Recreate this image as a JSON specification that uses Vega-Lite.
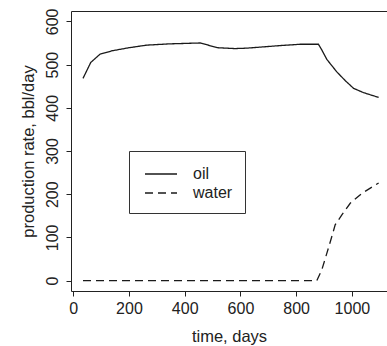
{
  "$schema": "https://vega.github.io/schema/vega-lite/v6.json",
  "width": 316,
  "height": 280,
  "autosize": {"type": "none"},
  "padding": {"left": 71, "top": 11, "right": 0, "bottom": 55},
  "background": "white",
  "config": {
    "view": {"stroke": null},
    "font": "Liberation Sans",
    "axis": {
      "domainColor": "#222",
      "domainWidth": 1,
      "tickColor": "#222",
      "tickWidth": 1,
      "tickSize": 5,
      "grid": false,
      "labelFont": "Liberation Sans",
      "labelFontSize": 16,
      "labelColor": "#222",
      "titleFont": "Liberation Sans",
      "titleFontSize": 16.5,
      "titleFontWeight": "normal",
      "titleColor": "#222"
    },
    "legend": {
      "orient": "none",
      "legendX": 58,
      "legendY": 140,
      "title": null,
      "strokeColor": "#333",
      "fillColor": "white",
      "cornerRadius": 0,
      "padding": 12,
      "symbolType": "M-1.6,0H1.6",
      "symbolSize": 400,
      "symbolOffset": 9,
      "symbolStrokeWidth": 1.3,
      "symbolStrokeColor": "#1a1a1a",
      "symbolFillColor": "transparent",
      "labelFont": "Liberation Sans",
      "labelFontSize": 16,
      "labelColor": "#222",
      "labelOffset": 21,
      "rowPadding": 0
    }
  },
  "data": {
    "values": [
      {"day": 35, "rate": 468, "fluid": "oil"},
      {"day": 63, "rate": 505, "fluid": "oil"},
      {"day": 96, "rate": 524, "fluid": "oil"},
      {"day": 140, "rate": 532, "fluid": "oil"},
      {"day": 200, "rate": 539, "fluid": "oil"},
      {"day": 264, "rate": 545, "fluid": "oil"},
      {"day": 348, "rate": 548, "fluid": "oil"},
      {"day": 456, "rate": 550, "fluid": "oil"},
      {"day": 518, "rate": 539, "fluid": "oil"},
      {"day": 580, "rate": 537, "fluid": "oil"},
      {"day": 623, "rate": 538, "fluid": "oil"},
      {"day": 743, "rate": 544, "fluid": "oil"},
      {"day": 814, "rate": 547, "fluid": "oil"},
      {"day": 880, "rate": 547, "fluid": "oil"},
      {"day": 892, "rate": 534, "fluid": "oil"},
      {"day": 910, "rate": 512, "fluid": "oil"},
      {"day": 946, "rate": 483, "fluid": "oil"},
      {"day": 976, "rate": 463, "fluid": "oil"},
      {"day": 1006, "rate": 445, "fluid": "oil"},
      {"day": 1042, "rate": 435, "fluid": "oil"},
      {"day": 1096, "rate": 424, "fluid": "oil"},
      {"day": 35, "rate": 0, "fluid": "water"},
      {"day": 874, "rate": 0, "fluid": "water"},
      {"day": 892, "rate": 25, "fluid": "water"},
      {"day": 910, "rate": 63, "fluid": "water"},
      {"day": 928, "rate": 102, "fluid": "water"},
      {"day": 940, "rate": 129, "fluid": "water"},
      {"day": 964, "rate": 152, "fluid": "water"},
      {"day": 994, "rate": 179, "fluid": "water"},
      {"day": 1036, "rate": 202, "fluid": "water"},
      {"day": 1096, "rate": 226, "fluid": "water"}
    ]
  },
  "layer": [
    {
      "mark": {"type": "line", "color": "#1a1a1a", "strokeWidth": 1.3},
      "encoding": {
        "x": {
          "field": "day",
          "type": "quantitative",
          "scale": {"domain": [-8, 1126], "nice": false, "zero": false},
          "axis": {
            "orient": "bottom",
            "values": [0, 200, 400, 600, 800, 1000],
            "format": "d",
            "title": "time, days",
            "labelPadding": 4,
            "titlePadding": 12,
            "labelFlush": false,
            "labelOverlap": false
          }
        },
        "y": {
          "field": "rate",
          "type": "quantitative",
          "scale": {"domain": [-24, 624], "nice": false, "zero": false},
          "axis": {
            "values": [0, 100, 200, 300, 400, 500, 600],
            "format": "d",
            "title": "production rate, bbl/day",
            "labelAngle": -90,
            "labelAlign": "center",
            "labelBaseline": "bottom",
            "labelPadding": 6,
            "titlePadding": 8,
            "labelFlush": false,
            "labelOverlap": false
          }
        },
        "strokeDash": {
          "field": "fluid",
          "type": "nominal",
          "scale": {"domain": ["oil", "water"], "range": [[1, 0], [8, 5]]}
        }
      }
    },
    {
      "mark": {"type": "line", "opacity": 0},
      "encoding": {
        "x": {
          "field": "day",
          "type": "quantitative",
          "axis": {"orient": "top", "labels": false, "ticks": false, "title": null, "domain": true}
        },
        "y": {"field": "rate", "type": "quantitative"},
        "detail": {"field": "fluid", "type": "nominal"}
      }
    }
  ],
  "resolve": {"axis": {"x": "independent"}}
}
